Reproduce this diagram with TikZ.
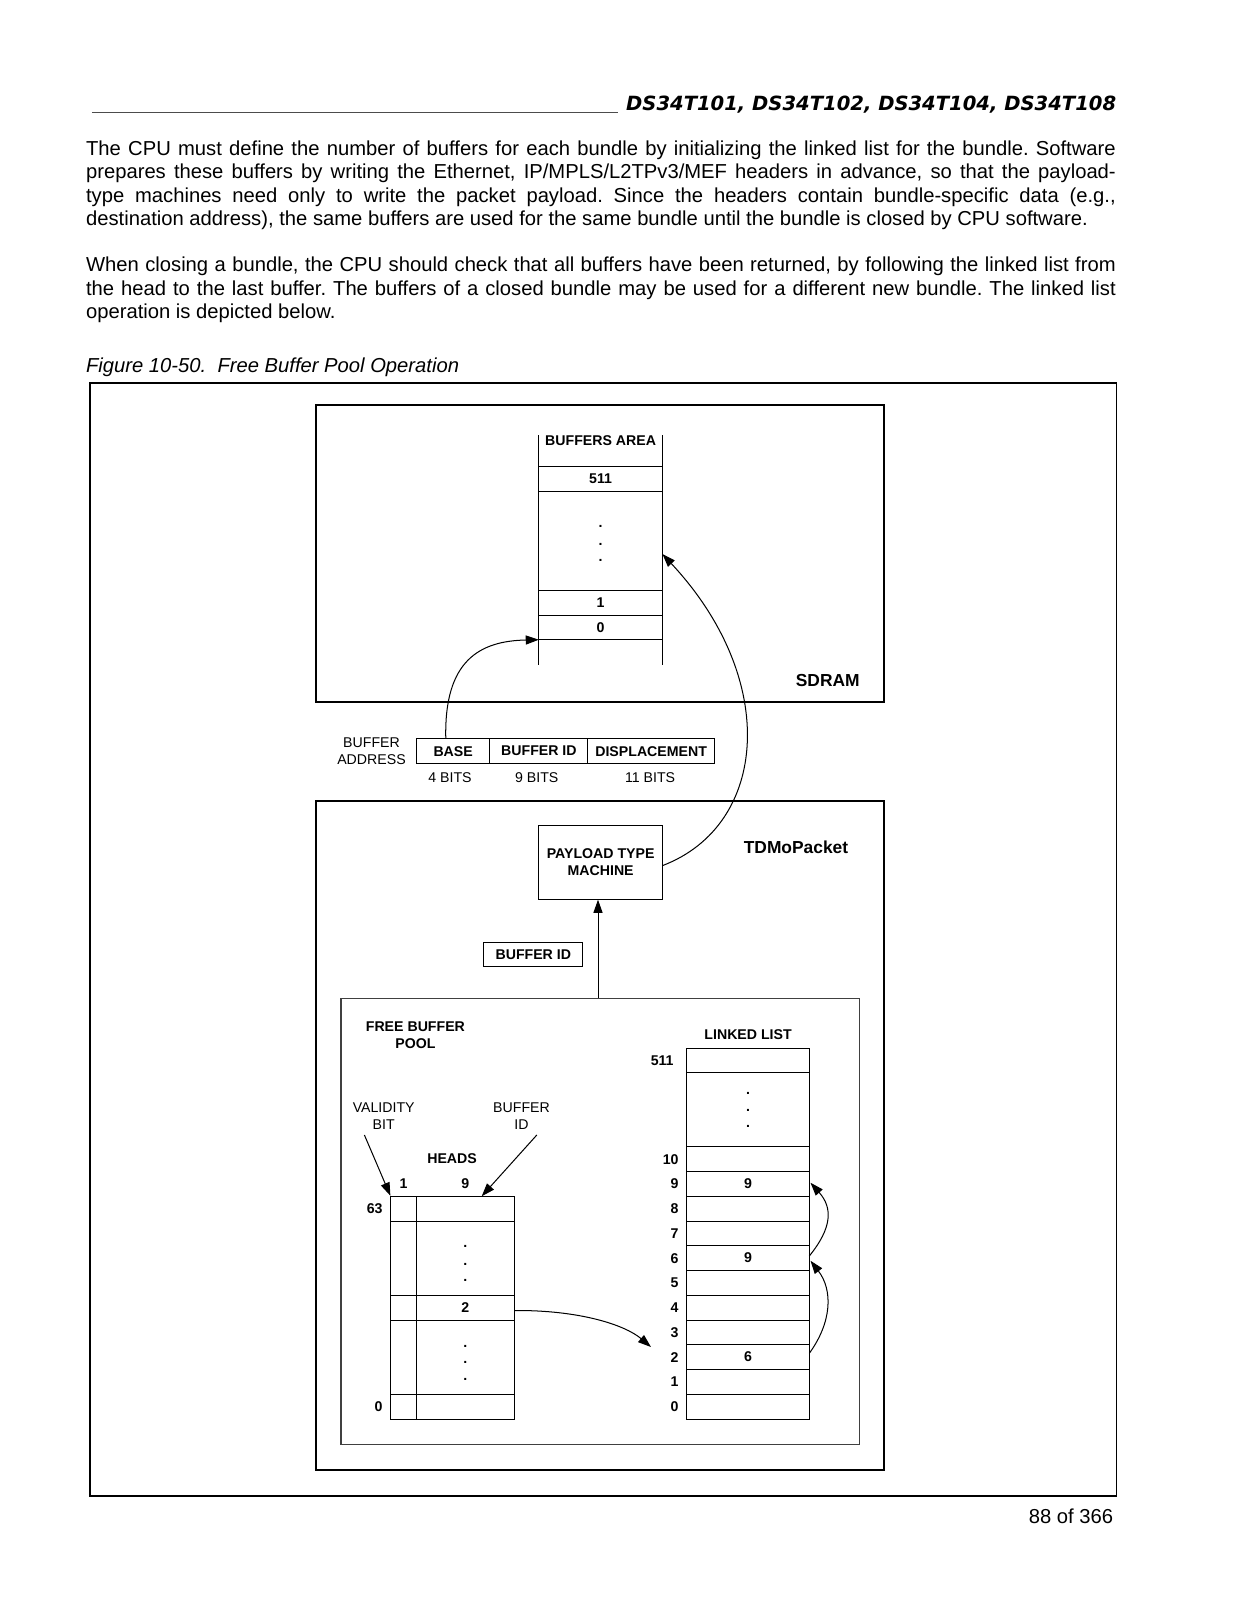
\documentclass[tikz,border=0pt]{standalone}
\usepackage{fontspec}
\setmainfont{Liberation Sans}
\newfontfamily\hdrfont{DejaVu Sans}[BoldFont={DejaVu Sans Bold},ItalicFont={DejaVu Sans Oblique},BoldItalicFont={DejaVu Sans Bold Oblique}]
\usepackage{graphicx}
\usetikzlibrary{arrows.meta,fit,calc}
\begin{document}
\begin{tikzpicture}[x=0.4948pt,y=-0.4948pt,
  frame/.style={draw, line width=0.9pt, inner sep=0pt},
  cell/.style={draw, line width=0.5pt, inner sep=0pt},
  sm/.style={font=\fontsize{7}{8.4}\selectfont, inner sep=0pt, align=center},
  smb/.style={font=\fontsize{7}{8.4}\selectfont\bfseries, inner sep=0pt, align=center},
  big/.style={font=\fontsize{8.6}{10}\selectfont\bfseries, inner sep=0pt},
  body/.style={font=\fontsize{10}{11.62}\selectfont, inner sep=0pt},
  tline/.style={line width=0.5pt},
  arr/.style={line width=0.5pt, -{Triangle[length=6.5pt,width=4.5pt]}},
]
\useasboundingbox (0,0) rectangle (1237,1600);
\fill[white] (0,0) rectangle (1237,1600);

% header
\draw[line width=0.5pt, black!70] (91.9,112) -- (617.5,112);
\node[anchor=base east, inner sep=0pt] (hdr) at (1116.5,110.5)
  {\resizebox{242.4pt}{!}{\fontsize{11}{13}\selectfont\hdrfont\bfseries\itshape DS34T101, DS34T102, DS34T104, DS34T108}};

% paragraphs
\node[body, anchor=north west, text width=509.5pt, align=justify] (p1) at (85.7,140.2)
 {\frenchspacing\hyphenpenalty=10000\exhyphenpenalty=10000\tolerance=9999
 The CPU must define the number of buffers for each bundle by initializing the linked list for the bundle. Software\linebreak
 prepares these buffers by writing the Ethernet, IP/MPLS/L2TPv3/MEF headers in advance, so that the payload-\linebreak
 type machines need only to write the packet payload. Since the headers contain bundle-specific data (e.g.,\linebreak
 destination address), the same buffers are used for the same bundle until the bundle is closed by CPU software.};
\node[body, anchor=north west, text width=509.5pt, align=justify] (p2) at (85.7,256.7)
 {\frenchspacing\hyphenpenalty=10000\exhyphenpenalty=10000\tolerance=9999
 When closing a bundle, the CPU should check that all buffers have been returned, by following the linked list from\linebreak
 the head to the last buffer. The buffers of a closed bundle may be used for a different new bundle. The linked list\linebreak
 operation is depicted below.};

% caption
\node[anchor=base west, font=\fontsize{10}{12}\selectfont\itshape, inner sep=0pt] (cap) at (85.7,372.6)
  {Figure 10-50.\ \ Free Buffer Pool Operation};

% outer frame
\node[frame, fit={(89.8,382.7) (1116.5,1496.2)}] (outer) {};

% SDRAM
\node[frame, fit={(316.4,405.2) (883.8,702.2)}] (sdram) {};
\node[big, anchor=east] (sdramlbl) at (860,680.7) {SDRAM};

% buffers area
\draw[tline] (538.9,435) -- (538.9,665);
\draw[tline] (662.4,435) -- (662.4,665);
\foreach \yy in {466.7,491,590.3,615.3,639.7} \draw[tline] (538.9,\yy) -- (662.4,\yy);
\node[smb, fill=white, inner xsep=1pt] (batitle) at (600.65,441) {BUFFERS AREA};
\node[smb] (b511) at (600.65,478.9) {511};
\node[smb] (bd1) at (600.65,526.7) {.};
\node[smb] (bd2) at (600.65,544) {.};
\node[smb] (bd3) at (600.65,560.7) {.};
\node[smb] (b1) at (600.65,602.8) {1};
\node[smb] (b0) at (600.65,627.5) {0};
\coordinate (b0line) at (538.9,639.7);
\coordinate (bright) at (662.4,554);

% buffer address
\node[sm] (balbl) at (371.5,751.6) {BUFFER\\ADDRESS};
\node[cell, fit={(416.4,738.9) (489.9,763.4)}] (base) {};
\node[cell, fit={(489.9,738.9) (587.9,763.4)}] (bid) {};
\node[cell, fit={(587.9,738.9) (714.4,763.4)}] (disp) {};
\node[smb] (basetxt) at (base.center) {BASE};
\node[smb] (bidtxt) at (bid.center) {BUFFER ID};
\node[smb] (disptxt) at (disp.center) {DISPLACEMENT};
\node[sm] (bits4) at (450,777.7) {4 BITS};
\node[sm] (bits9) at (536.8,777.7) {9 BITS};
\node[sm] (bits11) at (650.1,777.7) {11 BITS};
\draw[arr] (base.120) .. controls (444,660) and (480,641) .. (b0line);

% TDMoPacket
\node[frame, fit={(316.4,801.2) (883.8,1469.7)}] (tdm) {};
\node[big] (tdmlbl) at (796,847) {TDMoPacket};
\node[cell, fit={(538.9,825.7) (662.4,899.2)}] (ptm) {};
\node[smb] (ptmtxt) at (600.65,861.9) {PAYLOAD TYPE\\MACHINE};
\draw[arr] ($(ptm.east)+(0,3)$) .. controls (768,825) and (780,680) .. (bright);
\node[cell, fit={(483.8,942) (582.8,966.5)}] (bidbox) {};
\node[smb] (bidboxtxt) at (bidbox.center) {BUFFER ID};

% free buffer pool
\node[draw=black!75, line width=0.6pt, inner sep=0pt, fit={(340.9,998.2) (859.3,1444.1)}] (pool) {};
\draw[arr] (pool.north -| 598,0) -- (ptm.south -| 598,0);
\node[smb] (fbp) at (415.4,1034.9) {FREE BUFFER\\POOL};
\node[smb] (lltitle) at (748.1,1034.9) {LINKED LIST};
\node[sm] (vb) at (383.7,1116.5) {VALIDITY\\BIT};
\node[sm] (bidl) at (521.5,1116.5) {BUFFER\\ID};
\node[smb] (headslbl) at (452.1,1158.4) {HEADS};
\node[smb] (c1) at (403.65,1183.9) {1};
\node[smb] (c9) at (465.4,1183.9) {9};
\node[smb, anchor=east] (h63) at (383,1208.4) {63};
\node[smb, anchor=east] (h0) at (383,1406.6) {0};

% heads table
\node[cell, fit={(390.9,1196.25) (514.4,1419)}] (htab) {};
\draw[tline] (416.4,1196.25) -- (416.4,1419);
\foreach \yy in {1221,1295.25,1320,1394.25} \draw[tline] (390.9,\yy) -- (514.4,\yy);
\node[smb] (h2) at (465.4,1307.6) {2};
\foreach \yy/\nm in {1246.7/a,1264/b,1280.7/c,1346/d,1362.7/e,1379.3/f} \node[smb] (hd\nm) at (465.4,\yy) {.};
\coordinate (vstart) at (364.4,1135);
\draw[arr] (vstart) -- (htab.north west);
\coordinate (bstart2) at (536.8,1135);
\coordinate (bend2) at (481.7,1196.25);
\draw[arr] (bstart2) -- (bend2);

% linked list
\node[cell, fit={(686.9,1048.3) (809.3,1419)}] (ltab) {};
\draw[tline] (686.9,1072.3) -- (809.3,1072.3);
\foreach \k in {1,...,11} \draw[tline] (686.9,{1419-24.75*\k}) -- (809.3,{1419-24.75*\k});
\foreach \k in {0,...,10} \node[smb, anchor=east] (ll\k) at (679,{1419-24.75*(\k+0.5)}) {\k};
\node[smb, anchor=east] (ll511) at (674,1060.3) {511};
\node[smb] (v9a) at (748.1,1183.9) {9};
\node[smb] (v9b) at (748.1,1258.1) {9};
\node[smb] (v6) at (748.1,1357.1) {6};
\foreach \yy/\nm in {1093.3/a,1110/b,1126.7/c} \node[smb] (ld\nm) at (748.1,\yy) {.};

\coordinate (h2s) at (514.4,1310.5);
\coordinate (h2e) at (651,1347);
\draw[arr] (h2s) .. controls (580,1310) and (625,1325) .. (h2e);

\coordinate (r2) at (809.3,1353.3);
\coordinate (r6in) at (810.5,1260.7);
\coordinate (r6out) at (809.3,1256);
\coordinate (r9) at (810.5,1182.7);
\draw[arr] (r2) .. controls (832,1322) and (833,1290) .. (r6in);
\draw[arr] (r6out) .. controls (832,1228) and (833,1208) .. (r9);

% page number
\node[anchor=base east, font=\fontsize{10}{12}\selectfont, inner sep=0pt] (pg) at (1113.5,1523.8) {88 of 366};
\end{tikzpicture}
\end{document}
